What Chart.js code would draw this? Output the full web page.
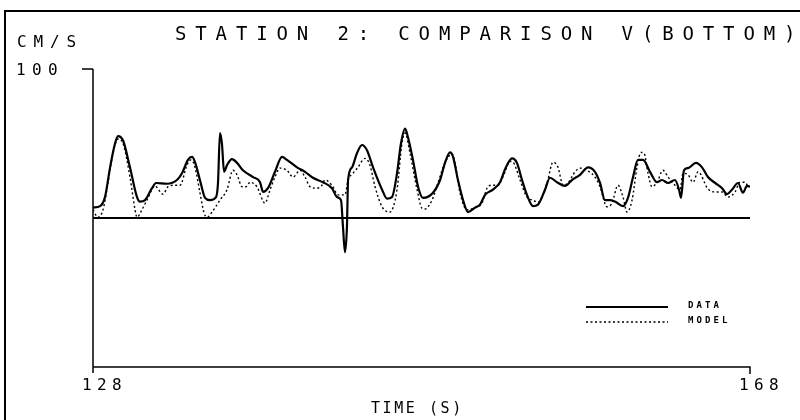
<!DOCTYPE html>
<html>
<head>
<meta charset="utf-8">
<script src="https://cdn.jsdelivr.net/npm/chart.js@4"></script>
<style>
  html, body { margin: 0; padding: 0; background: #fff; }
  #wrap { width: 800px; height: 420px; }
</style>
</head>
<body>
<div id="wrap"><canvas id="myChart" width="800" height="420"></canvas></div>
<script>
// time axis (s) and velocity (cm/s)
const dataTime = [
    128.00, 128.43, 128.73, 129.04, 129.34, 129.52, 129.83, 130.25, 130.68, 130.86,
    131.17, 131.59, 131.84, 132.51, 133.11, 133.42, 133.78, 134.03, 134.21, 134.51,
    134.82, 135.12, 135.49, 135.61, 135.73, 135.85, 135.98, 136.16, 136.46, 136.77,
    137.13, 137.74, 138.17, 138.35, 138.65, 139.08, 139.51, 139.81, 140.42, 140.91,
    141.39, 142.00, 142.55, 142.86, 143.10, 143.22, 143.34, 143.46, 143.53, 143.77,
    144.07, 144.38, 144.68, 145.05, 145.60, 145.90, 146.20, 146.51, 146.75, 147.00,
    147.18, 147.48, 147.79, 148.09, 148.70, 149.13, 149.43, 149.74, 149.92, 150.22,
    150.53, 150.83, 151.26, 151.56, 151.87, 152.35, 152.78, 153.14, 153.51, 153.81,
    154.12, 154.42, 154.79, 155.09, 155.52, 155.82, 156.25, 156.74, 157.16, 157.65,
    158.14, 158.56, 158.87, 159.17, 159.48, 159.78, 160.27, 160.57, 160.88, 161.18,
    161.49, 161.91, 162.34, 162.64, 163.01, 163.43, 163.68, 163.80, 163.98, 164.23,
    164.71, 165.08, 165.44, 165.87, 166.30, 166.60, 166.90, 167.27, 167.57, 167.82,
    168.00
];
const dataVel = [
    7, 8, 14, 34, 50, 55, 52, 34, 14, 11,
    12, 20, 23.5, 23, 25.5, 30, 39, 41, 37.5, 25.5,
    13.5, 12, 14, 23.5, 57, 50, 31, 35.5, 39.5, 37,
    32, 27.5, 24, 17.5, 20, 31, 41, 39, 34, 31,
    27, 24, 20, 14, 12, -6, -23, -6, 25.5, 34,
    43.5, 49, 45.5, 34, 19, 13, 14, 30, 50, 60,
    54, 39, 21, 13.5, 17, 25.5, 37, 44, 41, 25.5,
    12, 4, 7, 9, 15.5, 19, 24, 34, 40, 37,
    25.5, 15.5, 8, 9, 19, 27, 24, 21.5, 25.5, 29,
    34, 31, 23.5, 12, 12, 11, 8, 13.5, 27.5, 39,
    39, 31, 24, 25.5, 23.5, 25.5, 19, 13.5, 32, 33.5,
    37, 34, 27.5, 23.5, 20, 16, 19, 23.5, 17, 21.5,
    21
];
const modelTime = [
    128.00, 128.30, 128.61, 128.91, 129.22, 129.52, 129.83, 130.25, 130.56, 130.68,
    130.98, 131.35, 131.77, 132.26, 132.57, 132.99, 133.30, 133.72, 133.97, 134.21,
    134.51, 134.76, 134.94, 135.25, 135.73, 136.16, 136.52, 136.77, 137.07, 137.32,
    137.56, 137.98, 138.47, 138.78, 139.08, 139.38, 139.81, 140.18, 140.60, 140.91,
    141.21, 141.64, 141.94, 142.12, 142.55, 142.92, 143.34, 143.53, 143.83, 144.13,
    144.56, 144.86, 145.17, 145.60, 146.08, 146.51, 146.81, 147.00, 147.30, 147.73,
    148.03, 148.21, 148.64, 149.00, 149.43, 149.86, 150.04, 150.34, 150.77, 151.13,
    151.68, 151.99, 152.29, 152.66, 152.96, 153.39, 153.57, 154.00, 154.42, 154.79,
    155.09, 155.64, 156.01, 156.31, 156.62, 156.92, 157.35, 157.65, 158.14, 158.56,
    158.87, 159.29, 159.60, 159.96, 160.27, 160.51, 160.82, 161.12, 161.36, 161.55,
    161.79, 162.03, 162.34, 162.70, 163.01, 163.43, 163.74, 163.92, 164.23, 164.53,
    164.84, 165.44, 165.87, 166.30, 166.66, 167.09, 167.39, 167.70, 167.88
];
const modelVel = [
    5.5, 0.5, 5.5, 23.5, 43.5, 53, 50, 27.5, 5.5, 0.5,
    5.5, 13.5, 21.5, 16, 21, 22, 22, 35.5, 39, 34,
    17, 3.5, 0.5, 4, 12, 19, 32, 29, 21, 21,
    24, 21, 10, 19, 27.5, 33.5, 32, 27.5, 32, 27.5,
    21, 20, 22, 25.5, 22, 15.5, 15.5, 25.5, 30, 34,
    40, 35.5, 21, 7.5, 4, 19, 50, 57, 43.5, 19,
    6.5, 6, 12, 23.5, 37, 43, 37, 17, 5.5, 6.5,
    10, 20, 22, 22, 27.5, 38, 37.5, 25.5, 14, 12,
    10.5, 23.5, 37.5, 34, 22, 23.5, 31, 33.5, 31.5, 27.5,
    21, 7.5, 10, 22, 14, 4, 12, 34, 44, 43.5,
    30, 21, 24, 32, 27.5, 22, 19, 30, 29, 24,
    31, 19.5, 17.5, 17.5, 14, 17.5, 24, 24, 21
];
const xTicks = [128, 168];
const yTicks = [100];
const seriesNames = ['DATA', 'MODEL'];

const toPoints = (ts, vs) => ts.map((t, i) => ({ x: t, y: vs[i] }));

// plotter style lettering: one character per fixed cell
function spaced(ctx, text, x, y, pitch) {
    for (let i = 0; i < text.length; i++) {
        ctx.fillText(text[i], x + i * pitch, y);
    }
}

const plotterFrame = {
    id: 'plotterFrame',
    beforeDatasetsDraw(chart) {
        const { ctx, scales: { x, y } } = chart;
        ctx.save();
        ctx.strokeStyle = '#000';
        ctx.lineWidth = 2;
        const y0 = y.getPixelForValue(0);
        ctx.beginPath();
        ctx.moveTo(x.getPixelForValue(128), y0);
        ctx.lineTo(x.getPixelForValue(168), y0);
        ctx.stroke();
        ctx.restore();
    },
    afterDraw(chart) {
        const { ctx, scales: { x, y } } = chart;
        const left = x.getPixelForValue(128);
        const right = x.getPixelForValue(168);
        const top = y.getPixelForValue(100);
        const bottom = y.getPixelForValue(-100);
        ctx.save();
        ctx.strokeStyle = '#000';
        ctx.fillStyle = '#000';

        // outer frame (top and left edges)
        ctx.lineWidth = 2;
        ctx.beginPath();
        ctx.moveTo(5, 420);
        ctx.lineTo(5, 11);
        ctx.lineTo(800, 11);
        ctx.stroke();

        // axes
        ctx.lineWidth = 1.5;
        ctx.beginPath();
        ctx.moveTo(left, top);
        ctx.lineTo(left, bottom + 6);
        ctx.moveTo(left, bottom);
        ctx.lineTo(right, bottom);
        ctx.lineTo(right, bottom + 7);
        yTicks.forEach(v => {
            const py = y.getPixelForValue(v);
            ctx.moveTo(left - 11, py);
            ctx.lineTo(left, py);
        });
        ctx.stroke();

        ctx.textBaseline = 'alphabetic';
        ctx.textAlign = 'left';

        // title
        ctx.font = '19px "DejaVu Sans Mono"';
        spaced(ctx, 'STATION 2: COMPARISON V(BOTTOM)', 175, 40, 20.3);

        // units and tick labels
        ctx.font = '16px "DejaVu Sans Mono"';
        spaced(ctx, 'CM/S', 17, 47, 16.5);
        yTicks.forEach(v => {
            spaced(ctx, String(v), 16, y.getPixelForValue(v) + 6, 16);
        });
        xTicks.forEach(v => {
            spaced(ctx, String(v), x.getPixelForValue(v) - 11, 390, 15);
        });
        ctx.font = '15px "DejaVu Sans Mono"';
        spaced(ctx, 'TIME (S)', 371, 413, 11.6);

        // legend
        const ds = chart.data.datasets;
        ctx.font = 'bold 9px "DejaVu Sans Mono"';
        [307, 322].forEach((ly, i) => {
            ctx.save();
            ctx.lineWidth = ds[i].borderWidth;
            ctx.setLineDash(ds[i].borderDash || []);
            ctx.beginPath();
            ctx.moveTo(586, ly);
            ctx.lineTo(668, ly);
            ctx.stroke();
            ctx.restore();
            spaced(ctx, seriesNames[i], 688, ly + 1, 8.5);
        });
        ctx.restore();
    }
};

document.addEventListener('DOMContentLoaded', () => {
    const canvas = document.getElementById('myChart');
    new Chart(canvas.getContext('2d'), {
        type: 'line',
        data: {
            datasets: [{
                label: seriesNames[0],
                data: toPoints(dataTime, dataVel),
                borderColor: '#000',
                borderWidth: 2.2,
                pointRadius: 0,
                cubicInterpolationMode: 'monotone'
            }, {
                label: seriesNames[1],
                data: toPoints(modelTime, modelVel),
                borderColor: '#000',
                borderWidth: 1.4,
                borderDash: [2, 2.5],
                pointRadius: 0,
                cubicInterpolationMode: 'monotone'
            }]
        },
        options: {
            responsive: false,
            animation: false,
            layout: { padding: { left: 93, right: 50, top: 69, bottom: 53 } },
            scales: {
                x: { type: 'linear', min: 128, max: 168, display: false },
                y: { min: -100, max: 100, display: false }
            },
            plugins: {
                legend: { display: false },
                tooltip: { enabled: false }
            }
        },
        plugins: [plotterFrame]
    });
});
</script>
</body>
</html>
